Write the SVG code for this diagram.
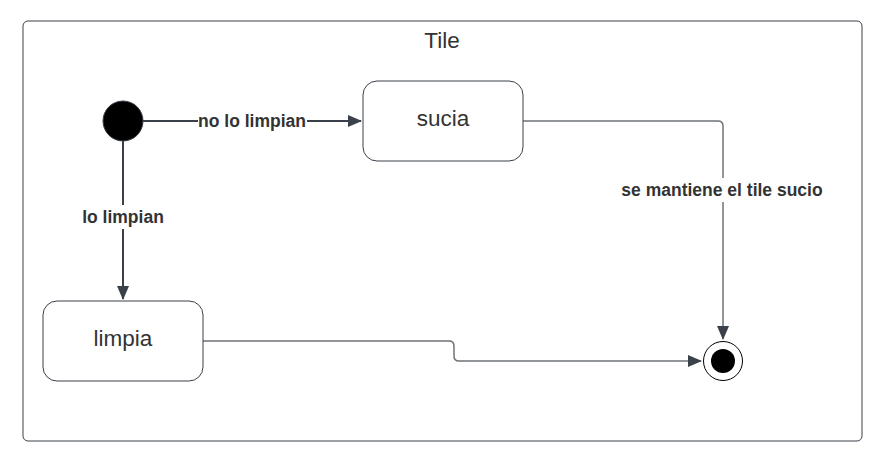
<svg xmlns="http://www.w3.org/2000/svg" width="884" height="462" viewBox="0 0 884 462">
<style>
text{font-family:"Liberation Sans",Arial,sans-serif;fill:#333}
.state{fill:#fff;stroke:#3a414a;stroke-width:1}
.t{font-size:22.5px;text-anchor:middle}
.lbl{font-size:17.5px;font-weight:bold;text-anchor:middle}
.c{fill:none;stroke:#3a414a;stroke-width:2}
.c2{fill:none;stroke:#6f7379;stroke-width:1.5}
</style>
<defs>
<marker id="ah" markerWidth="14" markerHeight="12" refX="13" refY="6" orient="auto" markerUnits="userSpaceOnUse">
<path d="M0,0 L14,6 L0,12 Z" fill="#3a414a"/>
</marker>
</defs>
<rect x="0" y="0" width="884" height="462" fill="#fff"/>
<g id="frame">
<rect x="23" y="21" width="839" height="420" rx="5" fill="#fff" stroke="#3a414a" stroke-width="1"/>
<text class="t" x="442" y="48">Tile</text>
</g>
<g id="connectors">
<path class="c" d="M143,121 H361" marker-end="url(#ah)"/>
<rect x="198" y="110" width="109" height="22" fill="#fff"/>
<text class="lbl" x="252" y="127">no lo limpian</text>
<path class="c" d="M123,141 V299" marker-end="url(#ah)"/>
<rect x="80" y="205" width="86" height="24" fill="#fff"/>
<text class="lbl" x="123" y="223">lo limpian</text>
<path class="c2" d="M523,121 H718 Q723,121 723,126 V339" marker-end="url(#ah)"/>
<rect x="618" y="178" width="210" height="24" fill="#fff"/>
<text class="lbl" x="722" y="196">se mantiene el tile sucio</text>
<path class="c2" d="M203,341 H449 Q454,341 454,346 V356 Q454,361 459,361 H701" marker-end="url(#ah)"/>
</g>
<g id="start">
<circle cx="123" cy="121" r="20" fill="#000" stroke="#3a414a" stroke-width="1"/>
</g>
<g id="sucia">
<rect class="state" x="363" y="81" width="160" height="80" rx="14"/>
<text class="t" x="443" y="126">sucia</text>
</g>
<g id="limpia">
<rect class="state" x="43" y="301" width="160" height="80" rx="14"/>
<text class="t" x="123" y="346">limpia</text>
</g>
<g id="end">
<circle cx="723" cy="361" r="19.5" fill="#fff" stroke="#000" stroke-width="1"/>
<circle cx="723" cy="361" r="12" fill="#000"/>
</g>
</svg>
